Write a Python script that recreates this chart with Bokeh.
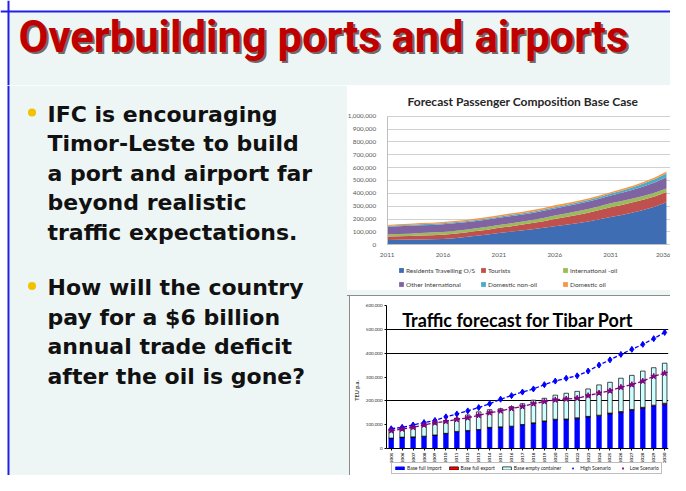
import math
from bokeh.plotting import figure
from bokeh.layouts import column, row
from bokeh.models import (Range1d, FixedTicker, NumeralTickFormatter, Legend, LegendItem,
                          Label, Span, Spacer, ColumnDataSource, BoxAnnotation)
from bokeh.core.properties import value
from bokeh.embed import file_html
from bokeh.resources import INLINE

# ---------------- data ----------------
slide_title = "Overbuilding ports and airports"
bullet_1 = ["IFC is encouraging", "Timor-Leste to build", "a port and airport far",
            "beyond realistic", "traffic expectations."]
bullet_2 = ["How will the country", "pay for a $6 billion", "annual trade deficit",
            "after the oil is gone?"]

pax_title = "Forecast Passenger Composition Base Case"
pax_years = list(range(2011, 2037))
pax_year_ticks = [2011, 2016, 2021, 2026, 2031, 2036]
pax_labels = ["Residents Travelling O/S", "Tourists", "International -oil",
              "Other International", "Domestic non-oil", "Domestic oil"]
# passengers, thousands
residents_k = [38, 40, 41, 42, 43, 45, 52, 60, 70, 80, 92, 101, 111, 121, 132, 145,
               156, 168, 181, 198, 216, 232, 251, 273, 298, 330]
tourists_k = [26, 27, 28, 30, 32, 34, 35, 36, 37, 38, 40, 42, 45, 48, 52, 56,
              60, 64, 68, 72, 76, 78, 79, 79, 79, 80]
intl_oil_k = [16, 17, 18, 19, 20, 21, 21, 21, 21, 22, 22, 23, 23, 24, 25, 26,
              27, 28, 29, 30, 31, 31, 30, 30, 29, 28]
other_intl_k = [60, 61, 61, 61, 60, 60, 59, 58, 57, 57, 56, 56, 55, 55, 55, 55,
                56, 57, 58, 59, 61, 64, 69, 74, 80, 88]
dom_nonoil_k = [7, 7, 7, 8, 8, 8, 8, 8, 8, 8, 9, 9, 9, 10, 10, 11,
                11, 12, 12, 13, 14, 16, 19, 22, 26, 30]
dom_oil_k = [8, 8, 9, 9, 9, 10, 10, 10, 11, 11, 11, 12, 12, 13, 13, 14,
             14, 12, 12, 11, 11, 12, 12, 13, 13, 14]
pax_colors = ["#3e6db3", "#c0504d", "#9bbb59", "#8064a2", "#4bacc6", "#f79646"]

port_title = "Traffic forecast for Tibar Port"
port_years = list(range(2005, 2031))
port_labels = ["Base full import", "Base full export", "Base empty container",
               "High Scenario", "Low Scenario"]
# TEU, thousands
import_k = [42, 46, 46, 50, 55, 62, 70, 74, 78, 86, 89, 92, 99, 105, 113, 120,
            121, 125, 132, 136, 145, 151, 160, 168, 178, 184]
export_k = [2, 2, 3, 2, 2, 2, 2, 2, 2, 3, 2, 2, 2, 3, 3, 3,
            3, 4, 3, 4, 4, 4, 4, 5, 4, 6]
empty_k = [35, 35, 40, 47, 51, 54, 56, 65, 74, 74, 76, 82, 87, 95, 95, 101,
           108, 111, 115, 127, 129, 140, 143, 152, 157, 168]
high_k = [83, 89, 99, 109, 118, 133, 145, 158, 172, 188, 207, 222, 237, 250, 268, 283,
          295, 305, 325, 350, 372, 395, 416, 437, 461, 487]
low_k = [75, 82, 89, 99, 108, 114, 122, 129, 139, 150, 158, 168, 176, 188, 197, 204,
         208, 211, 222, 233, 242, 257, 268, 283, 303, 316]

MINT = "#eef6f5"
BLUE_FRAME = "#1f1fe6"
GRAY_EDGE = "#8c8c8c"

# ---------------- slide title ----------------
tf = figure(width=670, height=85, x_range=Range1d(0, 670), y_range=Range1d(85, 0),
            x_axis_location=None, y_axis_location=None, toolbar_location=None,
            output_backend="svg", min_border=0, outline_line_color=None,
            background_fill_color="white", border_fill_color="white")
tf.grid.visible = False
tf.add_layout(BoxAnnotation(left=9, top=12, fill_color=MINT, fill_alpha=1, line_color=None,
                            level="underlay"))
tf.add_layout(Span(location=11, dimension="width", line_color=BLUE_FRAME, line_width=2))
tf.add_layout(Span(location=8, dimension="height", line_color=BLUE_FRAME, line_width=2))
tf.text(x=[18], y=[37], text=[slide_title], x_offset=2, y_offset=2,
        text_font=value("Roboto"), text_font_style="bold",
        text_font_size="43.5px", text_color="#4a3a3a", text_alpha=0.75,
        text_baseline="middle")
tf.text(x=[18], y=[37], text=[slide_title],
        text_font=value("Roboto"), text_font_style="bold",
        text_font_size="43.5px", text_color="#c00000", text_baseline="middle")

# ---------------- bullets ----------------
xf = figure(width=347, height=390, x_range=Range1d(0, 347), y_range=Range1d(475, 85),
            x_axis_location=None, y_axis_location=None, toolbar_location=None,
            output_backend="svg", min_border=0, outline_line_color=None,
            background_fill_color="white", border_fill_color="white")
xf.grid.visible = False
xf.add_layout(BoxAnnotation(left=9, fill_color=MINT, fill_alpha=1, line_color=None,
                            level="underlay"))
xf.add_layout(Span(location=8, dimension="height", line_color=BLUE_FRAME, line_width=2))
line_h = 29.6
blocks = [(bullet_1, 113.5), (bullet_2, 287)]
for lines, first in blocks:
    ys = [first + i * line_h for i in range(len(lines))]
    xf.text(x=[47] * len(lines), y=ys, text=lines,
            text_font=value("DejaVu Sans"), text_font_style="bold",
            text_font_size="22px", text_color="#111111", text_baseline="middle")
    xf.scatter(x=[31.5], y=[first - 1.5], size=8, color="#f2c200", line_color=None)

# ---------------- passenger forecast (stacked area) ----------------
keys = ["s%d" % i for i in range(6)]
src1 = ColumnDataSource(dict(year=pax_years,
                             s0=[v * 1000 for v in residents_k],
                             s1=[v * 1000 for v in tourists_k],
                             s2=[v * 1000 for v in intl_oil_k],
                             s3=[v * 1000 for v in other_intl_k],
                             s4=[v * 1000 for v in dom_nonoil_k],
                             s5=[v * 1000 for v in dom_oil_k]))
# the frame fills the panel below the title; the axes are pinned at 2011 / 0 inside it,
# so their labels and the legend rows sit in the frame's margins and are not clipped
c1 = figure(width=323, height=205, x_range=Range1d(2007.45, 2036.36),
            y_range=Range1d(-355000, 1044000),
            toolbar_location=None, output_backend="svg",
            min_border_left=0, min_border_right=0, min_border_top=25, min_border_bottom=0,
            background_fill_color="white", border_fill_color="white", outline_line_color=None)
areas = c1.varea_stack(stackers=keys, x="year", color=pax_colors, source=src1)
c1.add_layout(BoxAnnotation(right=2011, fill_color="white", fill_alpha=1, line_color=None,
                            level="underlay"))
c1.title.text = pax_title
c1.title.text_font = "Lato"
c1.title.text_font_style = "bold"
c1.title.text_font_size = "12px"
c1.title.text_color = "#262626"
c1.title.align = "left"
c1.title.offset = 60
c1.title.standoff = 4
c1.xgrid.visible = False
c1.ygrid.ticker = FixedTicker(ticks=list(range(0, 1000001, 100000)))
c1.ygrid.grid_line_color = "#d0d0d0"
c1.yaxis.ticker = FixedTicker(ticks=list(range(0, 1000001, 100000)))
c1.yaxis.formatter = NumeralTickFormatter(format="0,0")
c1.yaxis.bounds = (0, 1000000)
c1.yaxis.fixed_location = 2011
c1.xaxis.ticker = FixedTicker(ticks=pax_year_ticks)
c1.xaxis.bounds = (2011, 2036)
c1.xaxis.fixed_location = 0
for ax in (c1.xaxis, c1.yaxis):
    ax.major_label_text_font = "Lato"
    ax.major_label_text_font_size = "6.3px"
    ax.major_label_text_color = "#595959"
    ax.major_tick_line_color = None
    ax.minor_tick_line_color = None
    ax.axis_line_color = "#bfbfbf"
c1.yaxis.major_label_standoff = 5
c1.xaxis.major_label_standoff = 2
leg_kw = dict(orientation="horizontal", label_text_font="Lato", label_text_font_size="6.5px",
              label_text_color="#404040", glyph_width=6, glyph_height=6, label_width=74,
              label_standoff=2, label_height=8, spacing=0, padding=0, margin=0,
              border_line_color=None, background_fill_alpha=0)
leg_a = Legend(items=[LegendItem(label=pax_labels[i], renderers=[areas[i]]) for i in range(3)],
               location=(51, 16), **leg_kw)
leg_b = Legend(items=[LegendItem(label=pax_labels[i], renderers=[areas[i]]) for i in range(3, 6)],
               location=(51, 2), **leg_kw)
c1.add_layout(leg_a)
c1.add_layout(leg_b)

# ---------------- port forecast (stacked bars + lines) ----------------
src2 = ColumnDataSource(dict(year=port_years,
                             imp=[v * 1000 for v in import_k],
                             exp=[v * 1000 for v in export_k],
                             emp=[v * 1000 for v in empty_k],
                             high=[v * 1000 for v in high_k],
                             low=[v * 1000 for v in low_k]))
c2 = figure(width=320, height=179, x_range=Range1d(2004.57, 2030.35),
            y_range=Range1d(-113000, 600000),
            toolbar_location=None, output_backend="svg",
            min_border_left=34, min_border_right=2, min_border_top=9, min_border_bottom=0,
            background_fill_color="white", border_fill_color="white", outline_line_color=None)
bars = c2.vbar_stack(["imp", "exp", "emp"], x="year", width=0.42, source=src2,
                     fill_color=["#0000ff", "#ff0000", "#ccffff"],
                     line_color=["#0000ff", "#000000", "#000000"], line_width=0.7)
c2.line("year", "high", source=src2, line_color="#0000ff", line_width=1.3, line_dash="4 2")
hs = c2.scatter("year", "high", source=src2, marker="diamond", size=6, color="#0000ff")
c2.line("year", "low", source=src2, line_color="#800080", line_width=1.3, line_dash="4 2")
ls = c2.scatter("year", "low", source=src2, marker="star", size=6, color="#800080")
c2.xgrid.visible = False
c2.ygrid.ticker = FixedTicker(ticks=[200000, 400000, 500000])
c2.ygrid.grid_line_color = "#000000"
c2.ygrid.grid_line_width = 1
c2.yaxis.ticker = FixedTicker(ticks=list(range(0, 600001, 100000)))
c2.yaxis.formatter = NumeralTickFormatter(format="0,0")
c2.yaxis.bounds = (0, 600000)
c2.xaxis.ticker = FixedTicker(ticks=port_years)
c2.xaxis.fixed_location = 0
c2.xaxis.major_label_orientation = math.pi / 2
for ax in (c2.xaxis, c2.yaxis):
    ax.major_label_text_font = "Lato"
    ax.major_label_text_font_size = "4.5px"
    ax.major_label_text_color = "#333333"
    ax.major_tick_line_color = "#000000"
    ax.major_tick_in = 0
    ax.major_tick_out = 2
    ax.minor_tick_line_color = None
    ax.axis_line_color = "#000000"
    ax.major_label_standoff = 2
c2.xaxis.major_label_text_font_style = "bold"
c2.yaxis.axis_label = "TEU p.a."
c2.yaxis.axis_label_text_font = "Lato"
c2.yaxis.axis_label_text_font_size = "5.5px"
c2.yaxis.axis_label_text_font_style = "bold"
c2.yaxis.axis_label_standoff = 3
c2.add_layout(Label(x=2006, y=540000, text=port_title, text_font="Lato",
                    text_font_style="bold", text_font_size="18px", text_color="#000000",
                    text_baseline="middle"))
leg_c = Legend(items=[LegendItem(label=port_labels[0], renderers=[bars[0]]),
                      LegendItem(label=port_labels[1], renderers=[bars[1]]),
                      LegendItem(label=port_labels[2], renderers=[bars[2]]),
                      LegendItem(label=port_labels[3], renderers=[hs]),
                      LegendItem(label=port_labels[4], renderers=[ls])],
               location=(5, 1), orientation="horizontal", label_text_font="Lato",
               label_text_font_size="5px", label_text_color="#222222",
               glyph_width=11, glyph_height=4, label_height=5, label_standoff=2,
               spacing=6, padding=2, margin=0, border_line_color="#7f7f7f",
               border_line_width=1, background_fill_color="white", background_fill_alpha=1)
c2.add_layout(leg_c)

# ---------------- layout ----------------
lower = column(Spacer(width=323, height=5, styles={"background-color": MINT}),
               Spacer(width=323, height=1, styles={"background-color": GRAY_EDGE}),
               row(Spacer(width=2, height=179, styles={"background-color": MINT}),
                   Spacer(width=1, height=179, styles={"background-color": GRAY_EDGE}),
                   c2))
layout = column(tf, row(xf, column(c1, lower)))

open("out.html", "w").write(file_html(layout, INLINE))
